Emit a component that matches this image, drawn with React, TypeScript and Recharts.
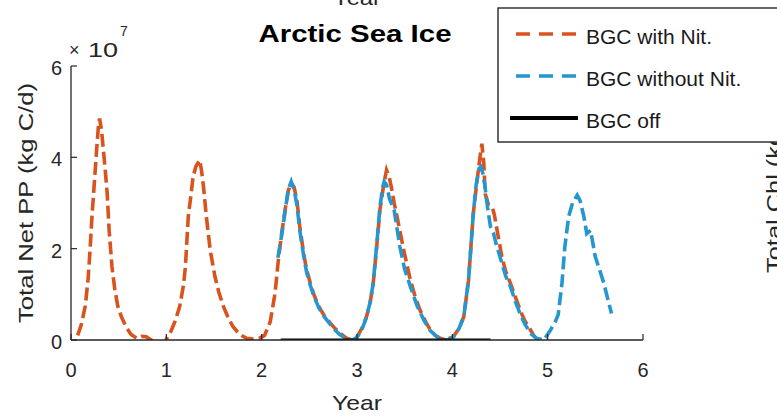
import React from 'react';
import { LineChart, Line, XAxis, YAxis } from 'recharts';

// Canvas and plot box (pixels)
const W = 777;
const H = 416;
const PLOT = { left: 71, right: 643, top: 66, bottom: 340 };

const FONT = "'Liberation Sans', Arial, Helvetica, sans-serif";
const INK = '#262626';
const RED = '#D9531E';
const BLUE = '#2596D0';

const xTicks = [0, 1, 2, 3, 4, 5, 6];
const yTicks = [0, 2, 4, 6];

// Total net primary production, in units of 1e7 kg C/d
const withNitYear = [
  0.07, 0.11, 0.15, 0.18, 0.2, 0.22, 0.24, 0.27, 0.29, 0.3, 0.32, 0.34, 0.36, 0.38, 0.4, 0.43, 0.46, 0.49, 0.53,
  0.58, 0.63, 0.69, 0.74, 0.79, 0.84, 0.9, 0.98, 1.04, 1.09, 1.14, 1.18, 1.2, 1.23, 1.26, 1.28, 1.31, 1.35, 1.37,
  1.39, 1.42, 1.46, 1.51, 1.55, 1.6, 1.65, 1.7, 1.77, 1.84, 1.91, 1.98, 2.03, 2.09, 2.14, 2.175, 2.21, 2.245, 2.28,
  2.31, 2.34, 2.37, 2.4, 2.44, 2.47, 2.51, 2.55, 2.6, 2.66, 2.72, 2.77, 2.82, 2.89, 2.95, 3.0, 3.05, 3.1, 3.14,
  3.17, 3.21, 3.24, 3.28, 3.31, 3.34, 3.365, 3.39, 3.42, 3.49, 3.56, 3.61, 3.66, 3.72, 3.77, 3.82, 3.87, 3.93,
  4.01, 4.07, 4.12, 4.17, 4.2, 4.22, 4.26, 4.29, 4.31, 4.33, 4.345, 4.38, 4.42, 4.44, 4.47, 4.52, 4.56, 4.61,
  4.66, 4.71, 4.76, 4.82, 4.86, 4.9,
];
const withNitPP = [
  0.1, 0.35, 0.75, 1.35, 1.97, 2.7, 3.3, 4.2, 4.75, 4.85, 4.6, 4.15, 3.7, 3.2, 2.4, 1.6, 1.1, 0.75, 0.5,
  0.28, 0.12, 0.04, 0.08, 0.07, 0.0, -0.05, -0.05, 0.15, 0.4, 0.73, 1.2, 1.6, 2.7, 3.2, 3.57, 3.8, 3.94, 3.7,
  3.35, 2.7, 1.97, 1.39, 1.05, 0.73, 0.48, 0.29, 0.12, 0.04, 0.02, 0.04, 0.1, 0.4, 1.02, 1.75, 2.34, 2.84, 3.28,
  3.43, 3.35, 3.06, 2.48, 1.9, 1.55, 1.25, 0.98, 0.73, 0.52, 0.37, 0.25, 0.15, 0.04, 0.0, 0.07, 0.25, 0.51, 0.85,
  1.24, 2.12, 2.84, 3.4, 3.72, 3.55, 3.3, 3.0, 2.7, 1.97, 1.31, 0.95, 0.66, 0.4, 0.22, 0.1, 0.04, 0.0,
  0.07, 0.25, 0.51, 1.31, 2.19, 2.77, 3.5, 4.0, 4.3, 3.87, 3.2, 2.95, 2.9, 2.75, 2.4, 1.82, 1.5, 1.24,
  0.95, 0.66, 0.42, 0.22, 0.08, 0.0,
];

const withoutNitYear = [
  2.17, 2.21, 2.245, 2.28, 2.31, 2.34, 2.37, 2.4, 2.44, 2.47, 2.51, 2.55, 2.6, 2.66, 2.72, 2.77, 2.82, 2.88, 2.95,
  3.0, 3.05, 3.1, 3.14, 3.17, 3.21, 3.24, 3.27, 3.285, 3.31, 3.34, 3.39, 3.45, 3.5, 3.56, 3.63, 3.7, 3.77, 3.84,
  3.9, 3.96, 4.01, 4.07, 4.12, 4.17, 4.2, 4.22, 4.25, 4.28, 4.3, 4.32, 4.34, 4.37, 4.4, 4.43, 4.46, 4.52, 4.56,
  4.61, 4.66, 4.71, 4.76, 4.82, 4.88, 4.96, 5.03, 5.08, 5.11, 5.15, 5.18, 5.22, 5.26, 5.31, 5.34, 5.38, 5.41,
  5.45, 5.5, 5.55, 5.59, 5.63, 5.67,
];
const withoutNitPP = [
  1.8, 2.3, 2.8, 3.3, 3.47, 3.3, 2.95, 2.4, 1.85, 1.5, 1.2, 0.95, 0.7, 0.5, 0.34, 0.22, 0.12, 0.04, 0.0,
  0.06, 0.22, 0.5, 0.85, 1.25, 2.15, 2.9, 3.35, 3.47, 3.4, 3.1, 2.84, 2.04, 1.55, 1.17, 0.75, 0.44, 0.2, 0.07,
  0.01, 0.0, 0.06, 0.25, 0.51, 1.31, 2.19, 2.77, 3.4, 3.75, 3.79, 3.65, 3.4, 2.9, 2.48, 2.35, 2.1, 1.68, 1.4,
  1.17, 0.85, 0.58, 0.35, 0.15, 0.04, 0.0, 0.22, 0.4, 0.55, 1.24, 2.04, 2.7, 3.0, 3.17, 3.05, 2.7, 2.33,
  2.4, 1.82, 1.5, 1.24, 0.9, 0.58,
];

const offYear = [2.2, 4.4];
const offPP = [0, 0];

const seriesNames = ['BGC with Nit.', 'BGC without Nit.', 'BGC off'];

const toPoints = (xs: number[], ys: number[]) => xs.map((year, i) => ({ year, pp: ys[i] }));

const withNit = toPoints(withNitYear, withNitPP);
const withoutNit = toPoints(withoutNitYear, withoutNitPP);
const off = toPoints(offYear, offPP);

const TICK_LEN = 6;

const BottomTick = (p: any) => (
  <g>
    <line x1={p.x} x2={p.x} y1={PLOT.bottom} y2={PLOT.bottom - TICK_LEN} stroke={INK} strokeWidth={1.2} />
    <text x={p.x} y={PLOT.bottom + 37} textAnchor="middle" fontSize={20} fontFamily={FONT} fill={INK}>
      {p.payload.value}
    </text>
  </g>
);

const TopTick = (p: any) => (
  <line x1={p.x} x2={p.x} y1={PLOT.top} y2={PLOT.top + TICK_LEN} stroke={INK} strokeWidth={1.2} />
);

const LeftTick = (p: any) => (
  <g>
    <line x1={PLOT.left} x2={PLOT.left + TICK_LEN} y1={p.y} y2={p.y} stroke={INK} strokeWidth={1.2} />
    <text x={62} y={p.y + 9} textAnchor="end" fontSize={20} fontFamily={FONT} fill={INK}>
      {p.payload.value}
    </text>
  </g>
);

const RightTick = (p: any) => (
  <line x1={PLOT.right} x2={PLOT.right - TICK_LEN} y1={p.y} y2={p.y} stroke={INK} strokeWidth={1.2} />
);

const axisLine = { stroke: INK, strokeWidth: 1.3 };

const legendRows = [
  { name: seriesNames[0], color: RED, dash: '14 9', y: 34, x1: 516 },
  { name: seriesNames[1], color: BLUE, dash: '14 9', y: 76, x1: 516 },
  { name: seriesNames[2], color: '#000', dash: undefined, y: 118, x1: 510 },
];

export default function App() {
  return (
    <div style={{ position: 'absolute', left: 0, top: 0, width: W, height: H, background: '#fff' }}>
      <LineChart
        width={W}
        height={H}
        margin={{ top: PLOT.top, right: W - PLOT.right, bottom: 0, left: 0 }}
      >
        <XAxis
          xAxisId="bottom"
          dataKey="year"
          type="number"
          domain={[0, 6]}
          ticks={xTicks}
          interval={0}
          height={H - PLOT.bottom}
          allowDataOverflow
          axisLine={axisLine}
          tickLine={false}
          tickSize={0}
          tick={BottomTick}
        />
        <XAxis
          xAxisId="top"
          orientation="top"
          type="number"
          domain={[0, 6]}
          ticks={xTicks}
          interval={0}
          height={0}
          allowDataOverflow
          axisLine={axisLine}
          tickLine={false}
          tickSize={0}
          tick={TopTick}
        />
        <YAxis
          yAxisId="left"
          type="number"
          domain={[0, 6]}
          ticks={yTicks}
          interval={0}
          width={PLOT.left}
          allowDataOverflow
          axisLine={axisLine}
          tickLine={false}
          tickSize={0}
          tick={LeftTick}
        />
        <YAxis
          yAxisId="right"
          orientation="right"
          type="number"
          domain={[0, 6]}
          ticks={yTicks}
          interval={0}
          width={0}
          allowDataOverflow
          axisLine={axisLine}
          tickLine={false}
          tickSize={0}
          tick={RightTick}
        />
        <Line
          xAxisId="bottom"
          yAxisId="left"
          data={withNit}
          dataKey="pp"
          name={seriesNames[0]}
          type="linear"
          stroke={RED}
          strokeWidth={3.6}
          strokeDasharray="13 5"
          dot={false}
          isAnimationActive={false}
        />
        <Line
          xAxisId="bottom"
          yAxisId="left"
          data={withoutNit}
          dataKey="pp"
          name={seriesNames[1]}
          type="linear"
          stroke={BLUE}
          strokeWidth={3.6}
          strokeDasharray="13 5"
          dot={false}
          isAnimationActive={false}
        />
        <Line
          xAxisId="bottom"
          yAxisId="left"
          data={off}
          dataKey="pp"
          name={seriesNames[2]}
          type="linear"
          stroke="#000"
          strokeWidth={3.2}
          dot={false}
          isAnimationActive={false}
        />
      </LineChart>

      <svg
        width={W}
        height={H}
        style={{ position: 'absolute', left: 0, top: 0, pointerEvents: 'none', overflow: 'hidden' }}
      >
        {/* x label of the panel above, cut at the top edge */}
        <text x={357} y={5} textAnchor="middle" fontSize={21} fontFamily={FONT} fill={INK} textLength={48} lengthAdjust="spacingAndGlyphs">
          Year
        </text>

        {/* neighbouring panel's y label, cut at the right edge */}
        <text
          transform="translate(781 273) rotate(-90)"
          fontSize={20}
          fontFamily={FONT}
          fill={INK}
          textLength={175}
          lengthAdjust="spacingAndGlyphs"
        >
          Total Chl (kg C)
        </text>

        <text x={355} y={42} textAnchor="middle" fontSize={24} fontWeight="bold" fontFamily={FONT} fill="#000" textLength={193} lengthAdjust="spacingAndGlyphs">
          Arctic Sea Ice
        </text>

        {/* exponent multiplier */}
        <text x={69} y={56} fontSize={18} fontFamily={FONT} fill={INK}>×</text>
        <text x={88} y={57} fontSize={20} fontFamily={FONT} fill={INK} textLength={30} lengthAdjust="spacingAndGlyphs">10</text>
        <text x={120} y={36} fontSize={14} fontFamily={FONT} fill={INK}>7</text>

        <text
          transform={`translate(33 ${(PLOT.top + PLOT.bottom) / 2}) rotate(-90)`}
          textAnchor="middle"
          fontSize={20}
          fontFamily={FONT}
          fill={INK}
          textLength={240}
          lengthAdjust="spacingAndGlyphs"
        >
          Total Net PP (kg C/d)
        </text>

        <text x={(PLOT.left + PLOT.right) / 2} y={410} textAnchor="middle" fontSize={21} fontFamily={FONT} fill={INK} textLength={50} lengthAdjust="spacingAndGlyphs">
          Year
        </text>

        {/* legend */}
        <rect x={498} y={8} width={300} height={134} fill="#fff" stroke={INK} strokeWidth={1.4} />
        {legendRows.map((r) => (
          <g key={r.name}>
            <line x1={r.x1} x2={578} y1={r.y} y2={r.y} stroke={r.color} strokeWidth={r.dash ? 3.5 : 4} strokeDasharray={r.dash} />
            <text x={586} y={r.y + 10} fontSize={21} fontFamily={FONT} fill="#1a1a1a">
              {r.name}
            </text>
          </g>
        ))}
      </svg>
    </div>
  );
}
